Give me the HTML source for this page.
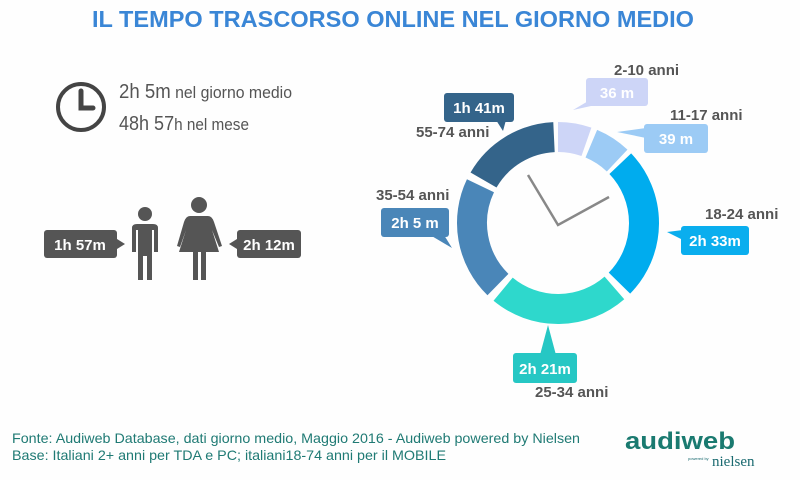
<!DOCTYPE html>
<html><head><meta charset="utf-8"><style>body{margin:0;background:#fff}svg{display:block}</style></head><body>
<svg width="800" height="480" viewBox="0 0 800 480" xmlns="http://www.w3.org/2000/svg" font-family="Liberation Sans, sans-serif" font-weight="bold">
<rect width="800" height="480" fill="#fefefe"/>
<text x="92" y="27" font-size="23" fill="#3a86d6" textLength="602" lengthAdjust="spacingAndGlyphs">IL TEMPO TRASCORSO ONLINE NEL GIORNO MEDIO</text>
<circle cx="81" cy="107" r="23" fill="none" stroke="#444" stroke-width="4"/>
<path d="M81 91 V108 H93" fill="none" stroke="#444" stroke-width="5" stroke-linecap="round"/>
<text x="119" y="98" font-size="17" fill="#555" font-weight="normal" textLength="173" lengthAdjust="spacingAndGlyphs"><tspan font-size="20">2h 5m</tspan> nel giorno medio</text>
<text x="119" y="130" font-size="17" fill="#555" font-weight="normal" textLength="130" lengthAdjust="spacingAndGlyphs"><tspan font-size="20">48h 57</tspan>h nel mese</text>
<circle cx="145" cy="214" r="7" fill="#555"/>
<path d="M132 228 Q132 224 137 224 H153 Q158 224 158 228 V252 H154 V230 H152 V280 H147 V256 H143 V280 H138 V230 H136 V252 H132 Z" fill="#555"/>
<circle cx="199" cy="205" r="8" fill="#555"/>
<path d="M190 216 H208 Q212 216 214 222 L222 246 L219 247 L212 230 L219 252 H206 V280 H201 V252 H198 V280 H193 V252 H179 L186 230 L180 247 L177 246 L184 222 Q186 216 190 216 Z" fill="#555"/>
<rect x="44" y="230" width="73" height="28" rx="3" fill="#555"/>
<path d="M117 239 L125 244 L117 249 Z" fill="#555"/>
<text x="80" y="250" font-size="15" fill="#fff" text-anchor="middle">1h 57m</text>
<rect x="237" y="230" width="64" height="28" rx="3" fill="#555"/>
<path d="M237 239 L229 244 L237 249 Z" fill="#555"/>
<text x="269" y="250" font-size="15" fill="#fff" text-anchor="middle">2h 12m</text>
<g transform="translate(558,223)" fill="none" stroke-width="30">
<circle r="86" stroke="#cdd5f7" stroke-dasharray="29 600" transform="rotate(-90)"/>
<circle r="86" stroke="#9ccbf5" stroke-dasharray="31 600" transform="rotate(-67.2)"/>
<circle r="86" stroke="#00acee" stroke-dasharray="132 600" transform="rotate(-43.6)"/>
<circle r="86" stroke="#2ed8cc" stroke-dasharray="121 600" transform="rotate(49)"/>
<circle r="86" stroke="#4a86b8" stroke-dasharray="107 600" transform="rotate(134.3)"/>
<circle r="86" stroke="#34648a" stroke-dasharray="86 600" transform="rotate(210)"/>
</g>
<path d="M528 175 L558 225 L609 197" fill="none" stroke="#888" stroke-width="2.5"/>
<text x="614" y="75" font-size="15" fill="#555">2-10 anni</text>
<rect x="586" y="78" width="62" height="28" rx="3" fill="#cdd5f7"/>
<path d="M590 100 L573 110 L600 104 Z" fill="#cdd5f7"/>
<text x="617" y="98" font-size="15" fill="#fff" text-anchor="middle">36 m</text>
<text x="670" y="120" font-size="15" fill="#555">11-17 anni</text>
<rect x="644" y="124" width="64" height="29" rx="3" fill="#9ccbf5"/>
<path d="M646 128 L617 132 L646 138 Z" fill="#9ccbf5"/>
<text x="676" y="144" font-size="15" fill="#fff" text-anchor="middle">39 m</text>
<rect x="444" y="93" width="70" height="29" rx="3" fill="#34648a"/>
<path d="M496 120 L503 131 L506 120 Z" fill="#34648a"/>
<text x="479" y="113" font-size="15" fill="#fff" text-anchor="middle">1h 41m</text>
<text x="416" y="137" font-size="15" fill="#555">55-74 anni</text>
<text x="376" y="200" font-size="15" fill="#555">35-54 anni</text>
<rect x="381" y="208" width="68" height="29" rx="3" fill="#4a86b8"/>
<path d="M430 235 L452 248 L444 235 Z" fill="#4a86b8"/>
<text x="415" y="228" font-size="15" fill="#fff" text-anchor="middle">2h 5 m</text>
<text x="705" y="219" font-size="15" fill="#555">18-24 anni</text>
<rect x="681" y="226" width="68" height="29" rx="3" fill="#0aaeee"/>
<path d="M683 230 L667 232 L683 240 Z" fill="#0aaeee"/>
<text x="715" y="246" font-size="15" fill="#fff" text-anchor="middle">2h 33m</text>
<rect x="513" y="353" width="64" height="30" rx="3" fill="#26c7c4"/>
<path d="M540 355 L548 325 L556 355 Z" fill="#26c7c4"/>
<text x="545" y="374" font-size="15" fill="#fff" text-anchor="middle">2h 21m</text>
<text x="535" y="397" font-size="15" fill="#555">25-34 anni</text>
<text x="12" y="443" font-size="14" font-weight="normal" fill="#1f7a74" textLength="568" lengthAdjust="spacingAndGlyphs">Fonte: Audiweb Database, dati giorno medio, Maggio 2016 - Audiweb powered by Nielsen</text>
<text x="12" y="460" font-size="14" font-weight="normal" fill="#1f7a74" textLength="434" lengthAdjust="spacingAndGlyphs">Base: Italiani 2+ anni per TDA e PC; italiani18-74 anni per il MOBILE</text>
<text x="625" y="449" font-size="24" fill="#1a7a70" textLength="110" lengthAdjust="spacingAndGlyphs">audiweb</text>
<text x="712" y="466" font-size="15" font-weight="normal" font-family="Liberation Serif, serif" fill="#1a6a70">nielsen</text>
<text x="688" y="460" font-size="4" font-weight="normal" fill="#1a6a70">powered by</text>
</svg>
</body></html>
